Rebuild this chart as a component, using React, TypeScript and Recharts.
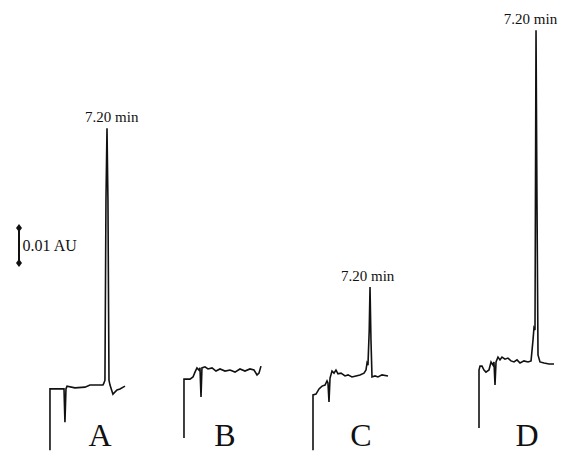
import { ComposedChart, Line, XAxis, YAxis, ReferenceDot, ReferenceLine } from "recharts"

// time (min) after injection and absorbance (mAU)
const traceA_t = [0, 0, 1.01, 1.77, 1.89, 2.02, 2.15, 3.16, 4.42, 5.05, 5.68, 6.69, 6.82, 6.94, 7.07, 7.2, 7.32, 7.45, 7.58, 7.95, 8.46, 8.84, 9.47]
const traceA_v = [1.1, 18.6, 18.6, 18.6, 9.1, 18.6, 19.4, 18.9, 19.1, 19.7, 19.7, 19.7, 20.3, 21.1, 72.6, 93.1, 72.6, 21.1, 19.7, 17.1, 18.3, 18.6, 19.4]

const traceB_t = [0, 0, 0.76, 1.14, 1.39, 1.64, 1.89, 2.02, 2.15, 2.27, 2.65, 3.03, 3.54, 4.04, 4.55, 5.18, 5.81, 6.44, 7.07, 7.7, 8.33, 8.84, 9.22, 9.47, 9.72]
const traceB_v = [4.6, 21.4, 21.4, 22.0, 23.4, 24.6, 24.0, 24.6, 16.3, 24.6, 24.9, 24.3, 24.6, 23.7, 24.3, 23.7, 24.0, 23.4, 24.3, 23.7, 24.3, 24.0, 22.6, 23.1, 25.1]

const traceC_t = [0, 0, 0.38, 0.76, 1.14, 1.52, 1.77, 1.89, 2.02, 2.15, 2.4, 2.65, 2.9, 3.16, 3.54, 4.04, 4.42, 4.92, 5.43, 5.93, 6.44, 6.69, 6.82, 6.94, 7.1, 7.2, 7.32, 7.45, 7.83, 8.21, 8.71, 9.47]
const traceC_v = [1.1, 16.9, 17.1, 18.6, 19.4, 19.7, 20.9, 20.3, 14.9, 21.7, 23.7, 23.1, 24.0, 22.9, 23.1, 22.3, 22.6, 22.0, 22.3, 22.6, 23.1, 24.0, 26.0, 25.4, 35.4, 47.7, 32.6, 22.0, 22.3, 22.0, 22.6, 22.3]

const traceD_t = [0, 0, 0.13, 0.38, 0.63, 0.88, 1.26, 1.52, 1.77, 1.89, 2.02, 2.15, 2.4, 2.65, 2.9, 3.28, 3.66, 4.04, 4.42, 4.8, 5.18, 5.68, 6.19, 6.57, 6.82, 6.94, 7.07, 7.2, 7.32, 7.45, 7.7, 8.21, 8.84, 9.47]
const traceD_v = [7.4, 24.0, 25.1, 25.1, 24.0, 23.4, 24.0, 26.3, 25.4, 26.3, 19.7, 26.3, 27.7, 26.9, 27.7, 27.1, 27.4, 26.6, 26.3, 26.9, 26.0, 26.6, 26.3, 26.6, 32.6, 36.0, 35.4, 121.1, 72.6, 28.3, 26.3, 26.0, 25.7, 25.7]

const panelNames = ["A", "B", "C", "D"]
const peakLabel = "7.20 min"
const peakTime = 7.2
const labelledPanels = ["A", "C", "D"]
const scaleBarLabel = "0.01 AU"
const scaleBarSpan = [54.6, 64.6] // mAU

// layout: where each trace starts (min on the shared axis) and where its letter sits
const PX_PER_MIN = 7.92
const PX_PER_MAU = 3.5
const W = 574
const H = 454
const panelOffsets = [6.31, 23.23, 39.52, 60.48]
const letterShift = [6.31, 5.18, 6.06, 6.06]
const peakLabelShift = [0.6, 0, -0.3, -0.7]
const scaleBarX = 2.4

const build = (ts: number[], vs: number[], off: number) => ts.map((t, i) => ({ x: off + t, v: vs[i] }))
const traces = [
  build(traceA_t, traceA_v, panelOffsets[0]),
  build(traceB_t, traceB_v, panelOffsets[1]),
  build(traceC_t, traceC_v, panelOffsets[2]),
  build(traceD_t, traceD_v, panelOffsets[3]),
]

const font = "'Liberation Serif', 'Times New Roman', serif"

const Diamond = ({ cx, cy }: any) => (
  <polygon points={`${cx},${cy - 4} ${cx + 3},${cy} ${cx},${cy + 4} ${cx - 3},${cy}`} fill="#111" />
)

export default function App() {
  return (
    <div style={{ position: "absolute", left: 0, top: 0, width: W, height: H, background: "#fff" }}>
      <ComposedChart width={W} height={H} margin={{ top: 0, right: 0, bottom: 0, left: 0 }}>
        <XAxis type="number" dataKey="x" domain={[0, W / PX_PER_MIN]} hide allowDataOverflow />
        <YAxis type="number" dataKey="v" domain={[0, H / PX_PER_MAU]} hide allowDataOverflow />
        {traces.map((d, i) => (
          <Line
            key={panelNames[i]}
            data={d}
            dataKey="v"
            type="linear"
            stroke="#111"
            strokeWidth={1.6}
            dot={false}
            activeDot={false}
            isAnimationActive={false}
          />
        ))}
        {panelNames.map((name, i) => {
          const d = traces[i]
          const top = d.reduce((m, p) => (p.v > m.v ? p : m), d[0])
          return labelledPanels.includes(name) ? (
            <ReferenceDot
              key={`peak-${name}`}
              x={panelOffsets[i] + peakTime + peakLabelShift[i]}
              y={top.v}
              r={0}
              label={{ value: peakLabel, position: "top", offset: 6, fill: "#111", fontSize: 15, fontFamily: font }}
            />
          ) : null
        })}
        {panelNames.map((name, i) => (
          <ReferenceDot
            key={`letter-${name}`}
            x={panelOffsets[i] + letterShift[i]}
            y={2.2}
            r={0}
            label={{ value: name, position: "top", offset: 0, fill: "#111", fontSize: 32, fontFamily: font }}
          />
        ))}
        <ReferenceLine
          segment={[{ x: scaleBarX, y: scaleBarSpan[0] }, { x: scaleBarX, y: scaleBarSpan[1] }]}
          stroke="#111"
          strokeWidth={2}
        />
        <ReferenceDot x={scaleBarX} y={scaleBarSpan[0]} r={3} shape={<Diamond />} />
        <ReferenceDot x={scaleBarX} y={scaleBarSpan[1]} r={3} shape={<Diamond />} />
        <ReferenceDot
          x={scaleBarX + 0.45}
          y={(scaleBarSpan[0] + scaleBarSpan[1]) / 2}
          r={0}
          label={{ value: scaleBarLabel, position: "right", offset: 0, fill: "#111", fontSize: 16, fontFamily: font }}
        />
      </ComposedChart>
    </div>
  )
}
